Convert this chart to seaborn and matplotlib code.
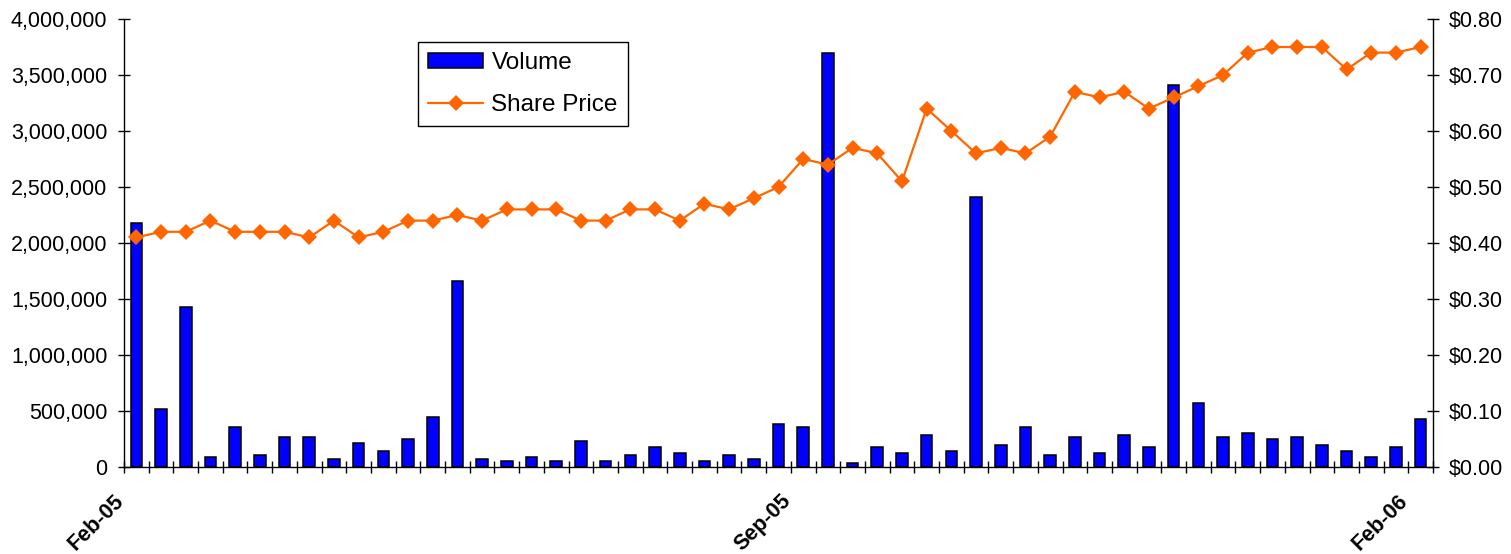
import matplotlib
matplotlib.use("Agg")
import matplotlib.pyplot as plt
import matplotlib.ticker as mticker
import matplotlib.transforms as mtransforms
from matplotlib.patches import Patch
from matplotlib.lines import Line2D
import numpy as np
import pandas as pd
import seaborn as sns

# Weekly trading data
week_start = "2005-02-28"
n_weeks = 53
volume = [
    2180000, 520000, 1430000, 90000, 360000, 110000, 270000, 270000, 70000, 210000,
    145000, 250000, 450000, 1660000, 75000, 55000, 90000, 55000, 230000, 55000,
    105000, 180000, 125000, 55000, 105000, 75000, 380000, 360000, 3700000, 35000,
    180000, 125000, 290000, 145000, 2410000, 195000, 360000, 110000, 270000, 125000,
    290000, 180000, 3410000, 575000, 270000, 305000, 250000, 270000, 195000, 145000,
    90000, 180000, 430000,
]
share_price = [
    0.41, 0.42, 0.42, 0.44, 0.42, 0.42, 0.42, 0.41, 0.44, 0.41,
    0.42, 0.44, 0.44, 0.45, 0.44, 0.46, 0.46, 0.46, 0.44, 0.44,
    0.46, 0.46, 0.44, 0.47, 0.46, 0.48, 0.50, 0.55, 0.54, 0.57,
    0.56, 0.51, 0.64, 0.60, 0.56, 0.57, 0.56, 0.59, 0.67, 0.66,
    0.67, 0.64, 0.66, 0.68, 0.70, 0.74, 0.75, 0.75, 0.75, 0.71,
    0.74, 0.74, 0.75,
]
labelled_weeks = ["2005-02-28", "2005-09-05", "2006-02-27"]
tick_labels = ["Feb-05", "Sep-05", "Feb-06"]

weeks = pd.date_range(week_start, periods=n_weeks, freq="7D")
df = pd.DataFrame({"pos": np.arange(n_weeks), "week": weeks,
                   "Volume": volume, "Share Price": share_price})

sns.set_style("ticks")
plt.rcParams["font.family"] = ["Liberation Sans", "DejaVu Sans"]
plt.rcParams["text.color"] = "black"

fig = plt.figure(figsize=(15.11, 5.54), dpi=100)
ax = fig.add_axes([124 / 1511, 87 / 554, 1309 / 1511, 448 / 554])
ax2 = ax.twinx()

blue = "#0000FF"
orange = "#FF6600"

sns.barplot(data=df, x="pos", y="Volume", color=blue, saturation=1,
            edgecolor="black", linewidth=1.1, width=0.47, ax=ax, zorder=2)
sns.lineplot(data=df, x="pos", y="Share Price", color=orange, linewidth=1.6,
             marker="D", markersize=8.5, markeredgewidth=0, ax=ax2, zorder=3)

ax.set_xlim(-0.5, n_weeks - 0.5)
ax.set_ylim(0, 4000000)
ax.yaxis.set_major_locator(mticker.MultipleLocator(500000))
ax.yaxis.set_major_formatter(mticker.FuncFormatter(lambda v, p: f"{int(v):,}"))
ax2.set_ylim(0, 0.8)
ax2.yaxis.set_major_locator(mticker.MultipleLocator(0.1))
ax2.yaxis.set_major_formatter(mticker.FuncFormatter(lambda v, p: f"${v:.2f}"))

# x axis: ticks between weeks, labels on selected weeks
label_pos = [int(np.where(weeks == pd.Timestamp(d))[0][0]) for d in labelled_weeks]
ax.set_xticks(label_pos)
ax.set_xticklabels(tick_labels, rotation=45, ha="right", va="top",
                   rotation_mode="anchor", fontweight="bold", fontsize=15.5,
                   color="black")
ax.set_xticks(np.arange(-0.5, n_weeks, 1.0), minor=True)
ax.tick_params(axis="x", which="major", length=0, pad=17)
ax.tick_params(axis="x", which="minor", direction="inout", length=8, width=1, color="black")
offset = mtransforms.ScaledTranslation(-23 / 100, 0, fig.dpi_scale_trans)
for lbl in ax.get_xticklabels():
    lbl.set_transform(lbl.get_transform() + offset)

ax.tick_params(axis="y", direction="inout", length=8, width=1, color="black",
               labelsize=15.5, pad=8, labelcolor="black")
ax2.tick_params(axis="y", direction="inout", length=8, width=1, color="black",
                labelsize=15.5, pad=7.5, labelcolor="black")

ax.set_xlabel("")
ax.set_ylabel("")
ax2.set_ylabel("")
for a in (ax, ax2):
    a.spines["top"].set_visible(False)
    for s in ("left", "right", "bottom"):
        a.spines[s].set_color("black")
        a.spines[s].set_linewidth(1.0)
ax.spines["right"].set_visible(False)
ax2.spines["left"].set_visible(False)
ax2.spines["bottom"].set_visible(False)

# Legend combining both series
bar_handle = Patch(facecolor=blue, edgecolor="black", linewidth=1.1)
line_handle = Line2D([], [], color=orange, linewidth=1.6,
                     marker="D", markersize=8.5, markeredgewidth=0)
if ax2.get_legend():
    ax2.get_legend().remove()
leg = ax2.legend([bar_handle, line_handle], ["Volume", "Share Price"],
                 loc="upper left", bbox_to_anchor=(294 / 1309, 425 / 448),
                 borderaxespad=0, frameon=True, fancybox=False, framealpha=1,
                 edgecolor="black", fontsize=17.5, handlelength=2.25,
                 handleheight=0.6, handletextpad=0.35, borderpad=0.42,
                 labelspacing=0.8, labelcolor="black")
leg.get_frame().set_linewidth(1.0)

fig.savefig("out.png", dpi=100, facecolor="white")
